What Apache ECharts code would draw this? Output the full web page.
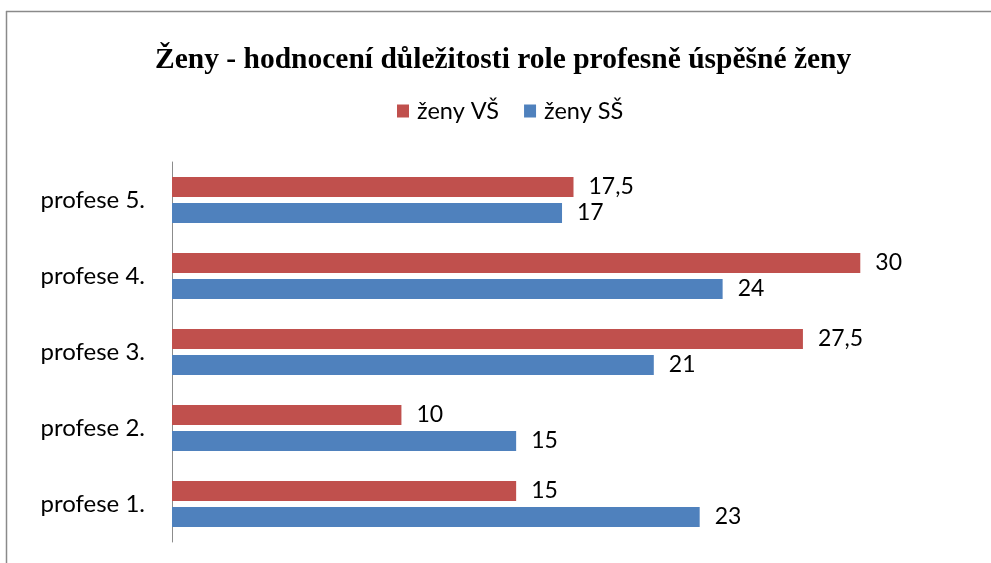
<!DOCTYPE html>
<html>
<head>
<meta charset="utf-8">
<script src="https://cdn.jsdelivr.net/npm/echarts@6/dist/echarts.min.js"></script>
<style>
html,body{margin:0;padding:0;background:#fff;}
#c{width:991px;height:563px;}
</style>
</head>
<body>
<div id="c"></div>
<script>
var categories = ['profese 1.', 'profese 2.', 'profese 3.', 'profese 4.', 'profese 5.'];
var seriesNames = ['ženy VŠ', 'ženy SŠ'];
var zenyVS = [15, 10, 27.5, 30, 17.5];
var zenySS = [23, 15, 21, 24, 17];
var titleText = 'Ženy - hodnocení důležitosti role profesně úspěšné ženy';

var chart = echarts.init(document.getElementById('c'), null, {renderer: 'canvas'});
var labelFont = 'Lato, "Open Sans", sans-serif';
function fmt(p) { return String(p.value).replace('.', ','); }
var option = {
  backgroundColor: '#fff',
  animation: false,
  title: {
    text: titleText,
    left: 150,
    top: 40,
    textStyle: {fontFamily: '"Liberation Serif", "DejaVu Serif", serif', fontWeight: 'bold', fontSize: 29.5, color: '#000'}
  },
  legend: {
    data: seriesNames,
    top: 94,
    left: 392,
    itemWidth: 12,
    itemHeight: 13,
    itemGap: 25,
    icon: 'rect',
    textStyle: {fontFamily: labelFont, fontSize: 23.5, color: '#000', padding: [0, 0, 0, 3]}
  },
  graphic: [
    {type: 'line', shape: {x1: 6, y1: 11.5, x2: 991, y2: 11.5}, style: {stroke: '#8a8a8a', lineWidth: 1.5}},
    {type: 'line', shape: {x1: 6.5, y1: 11, x2: 6.5, y2: 563}, style: {stroke: '#8a8a8a', lineWidth: 1.5}}
  ],
  grid: {left: 172, right: 16, top: 162, bottom: 21, containLabel: false},
  xAxis: {
    type: 'value', min: 0, max: 35,
    show: false
  },
  yAxis: {
    type: 'category',
    data: categories,
    axisLine: {show: true, lineStyle: {color: '#8c8c8c', width: 1}},
    axisTick: {show: false},
    axisLabel: {fontFamily: labelFont, fontSize: 24, color: '#000', margin: 27}
  },
  series: [
    {
      name: seriesNames[0], type: 'bar', data: zenyVS, barWidth: 20, barGap: '30%',
      itemStyle: {color: '#C0504D'},
      label: {show: true, position: 'right', distance: 15, formatter: fmt, fontFamily: labelFont, fontSize: 23, color: '#000'}
    },
    {
      name: seriesNames[1], type: 'bar', data: zenySS, barWidth: 20, barGap: '30%',
      itemStyle: {color: '#4F81BD'},
      label: {show: true, position: 'right', distance: 15, formatter: fmt, fontFamily: labelFont, fontSize: 23, color: '#000'}
    }
  ]
};
chart.setOption(option);
</script>
</body>
</html>
